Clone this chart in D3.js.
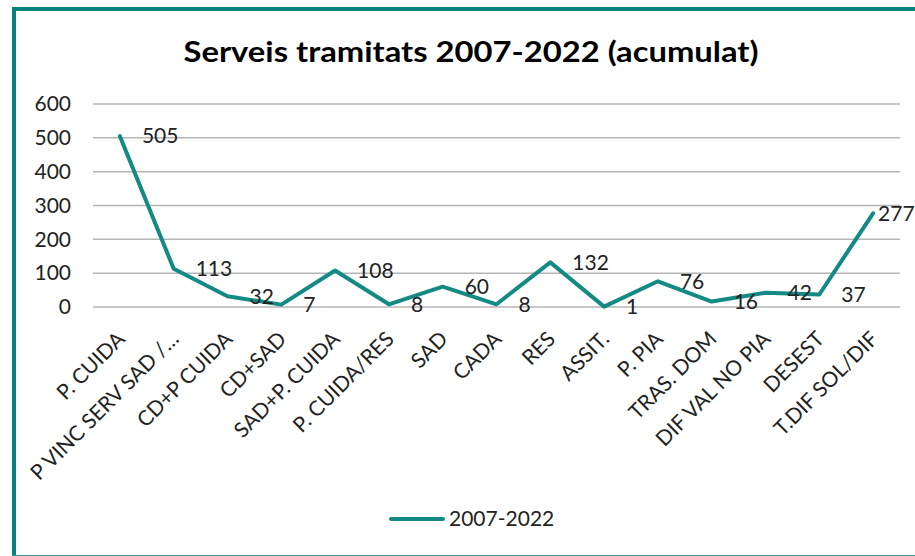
<!DOCTYPE html>
<html>
<head>
<meta charset="utf-8">
<script src="https://cdn.jsdelivr.net/npm/d3@7"></script>
<style>
  body { margin: 0; background: #fff; }
  svg { display: block; font-family: Lato, "Open Sans", sans-serif; }
</style>
</head>
<body>
<svg id="chart"></svg>
<script>
var categories = ["P. CUIDA", "P VINC SERV SAD /\u2026", "CD+P CUIDA", "CD+SAD", "SAD+P. CUIDA",
    "P. CUIDA/RES", "SAD", "CADA", "RES", "ASSIT.", "P. PIA", "TRAS. DOM",
    "DIF VAL NO PIA", "DESEST", "T.DIF SOL/DIF"];
var values = [505, 113, 32, 7, 108, 8, 60, 8, 132, 1, 76, 16, 42, 37, 277];
var yTicks = [0, 100, 200, 300, 400, 500, 600];
var seriesName = "2007-2022";

var W = 915, H = 556;
var margin = { top: 104, right: 15, bottom: 249, left: 93 },
    width = W - margin.left - margin.right,
    height = H - margin.top - margin.bottom;

var teal = "#138a84";

var svg = d3.select("#chart")
    .attr("width", W)
    .attr("height", H);

// frame of the chart area
svg.append("rect").attr("x", 0).attr("y", 0).attr("width", W).attr("height", H).attr("fill", "#fff");
svg.append("line").attr("x1", 12).attr("x2", W).attr("y1", 9).attr("y2", 9)
    .attr("stroke", "#00827e").attr("stroke-width", 4);
svg.append("line").attr("x1", 14).attr("x2", 14).attr("y1", 7).attr("y2", H)
    .attr("stroke", "#00827e").attr("stroke-width", 4);
svg.append("line").attr("x1", 12).attr("x2", W).attr("y1", 555.5).attr("y2", 555.5)
    .attr("stroke", "#3a9a94").attr("stroke-width", 1);

svg.append("text")
    .attr("x", 471).attr("y", 62)
    .attr("text-anchor", "middle")
    .attr("textLength", 575)
    .attr("lengthAdjust", "spacingAndGlyphs")
    .style("font-family", "Lato, sans-serif")
    .style("font-weight", "bold")
    .style("font-size", "29px")
    .attr("fill", "#000")
    .text("Serveis tramitats 2007-2022 (acumulat)");

var g = svg.append("g")
    .attr("transform", "translate(" + margin.left + "," + margin.top + ")");

var x = d3.scaleBand()
    .domain(categories)
    .range([0, width]);

var y = d3.scaleLinear()
    .domain([0, 600])
    .range([height, 0]);

// gridlines
g.append("g")
    .selectAll("line")
    .data(yTicks)
    .enter().append("line")
    .attr("x1", 0).attr("x2", width)
    .attr("y1", function(d) { return y(d); })
    .attr("y2", function(d) { return y(d); })
    .attr("stroke", "#b5b5b5")
    .attr("stroke-width", 1.5);

// y axis labels
var yAxis = g.append("g")
    .call(d3.axisLeft(y).tickValues(yTicks).tickSize(0).tickPadding(22));
yAxis.select(".domain").remove();
yAxis.selectAll("text")
    .style("font-family", "Lato, sans-serif")
    .style("font-size", "21px")
    .attr("fill", "#222");

// x axis labels
var xAxis = g.append("g")
    .attr("transform", "translate(0," + height + ")")
    .call(d3.axisBottom(x).tickSize(0));
xAxis.select(".domain").remove();
xAxis.selectAll("text")
    .style("font-family", "Lato, sans-serif")
    .style("font-size", "21px")
    .attr("fill", "#222")
    .attr("text-anchor", "end")
    .attr("dy", "0.35em")
    .attr("transform", "translate(-1,26) rotate(-45)");

var line = d3.line()
    .x(function(d, i) { return x(categories[i]) + x.bandwidth() / 2; })
    .y(function(d) { return y(d); });

g.append("path")
    .datum(values)
    .attr("d", line)
    .attr("fill", "none")
    .attr("stroke", teal)
    .attr("stroke-width", 4)
    .attr("stroke-linejoin", "round")
    .attr("stroke-linecap", "round");

// data labels, placed to the right of each point (last one pulled in at the edge)
g.append("g")
    .selectAll("text")
    .data(values)
    .enter().append("text")
    .attr("x", function(d, i) {
        var off = i === values.length - 1 ? 5 : 22;
        return x(categories[i]) + x.bandwidth() / 2 + off;
    })
    .attr("y", function(d) { return y(d); })
    .attr("dy", "0.35em")
    .style("font-family", "Lato, sans-serif")
    .style("font-size", "21px")
    .attr("fill", "#222")
    .text(function(d) { return d; });

// legend
var legend = svg.append("g").attr("transform", "translate(391,519)");
legend.append("line")
    .attr("x1", 0).attr("x2", 52).attr("y1", 0).attr("y2", 0)
    .attr("stroke", teal).attr("stroke-width", 4).attr("stroke-linecap", "round");
legend.append("text")
    .attr("x", 58).attr("y", 0).attr("dy", "0.35em")
    .style("font-family", "Lato, sans-serif")
    .style("font-size", "21px")
    .attr("fill", "#222")
    .text(seriesName);
</script>
</body>
</html>
